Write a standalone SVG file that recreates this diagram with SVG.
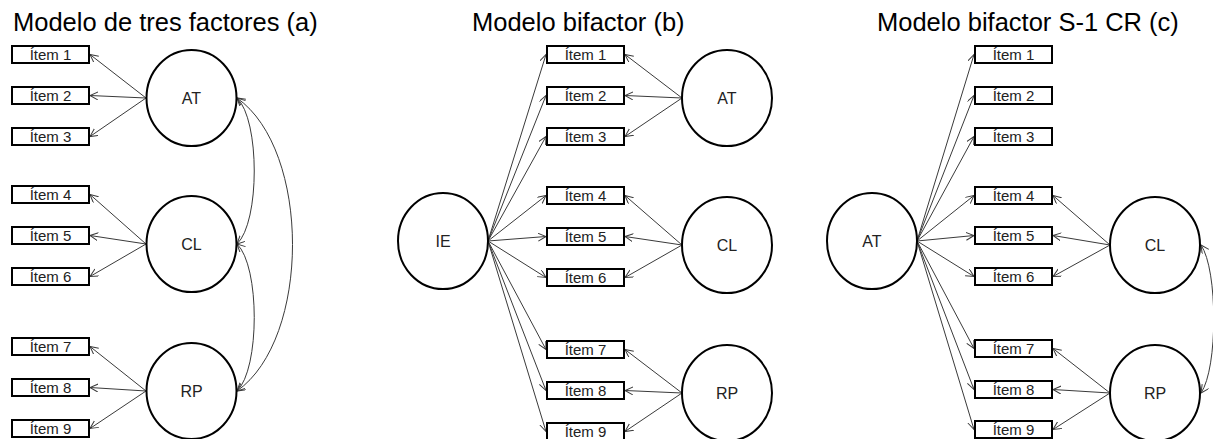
<svg xmlns="http://www.w3.org/2000/svg" width="1213" height="439" viewBox="0 0 1213 439">
  <defs>
    <style>
      .title { font-family: "Liberation Sans", Arial, sans-serif; font-size: 25.5px; fill: #000; }
      .item rect { fill: #fff; stroke: #000; stroke-width: 2; }
      .item text { font-family: "Liberation Sans", Arial, sans-serif; font-size: 15px; fill: #222; text-anchor: middle; }
      .factor ellipse { fill: #fff; stroke: #000; stroke-width: 2; }
      .factor text { font-family: "Liberation Sans", Arial, sans-serif; font-size: 16px; fill: #222; text-anchor: middle; }
      .conn line, .conn path { stroke: #3a3a3a; stroke-width: 1; fill: none; }
      .conn line { marker-end: url(#arrow); }
      .conn path { marker-start: url(#arrow-s); marker-end: url(#arrow); }
    </style>
    <marker id="arrow" markerUnits="userSpaceOnUse" markerWidth="10" markerHeight="10" refX="8" refY="4" orient="auto">
      <path d="M0,0 L8,4 L0,8" fill="none" stroke="#3a3a3a" stroke-width="1"/>
    </marker>
    <marker id="arrow-s" markerUnits="userSpaceOnUse" markerWidth="10" markerHeight="10" refX="8" refY="4" orient="auto-start-reverse">
      <path d="M0,0 L8,4 L0,8" fill="none" stroke="#3a3a3a" stroke-width="1"/>
    </marker>
  </defs>

  <rect width="1213" height="439" fill="#fff"/>

  <!-- Titles -->
  <text class="title" x="13" y="31">Modelo de tres factores (a)</text>
  <text class="title" x="472" y="31">Modelo bifactor (b)</text>
  <text class="title" x="877" y="31">Modelo bifactor S-1 CR (c)</text>

  <!-- Connectors -->
  <g id="connectors" class="conn">
    <!-- (a) loadings -->
    <line x1="146" y1="98" x2="90" y2="54.5"/>
    <line x1="146" y1="98" x2="90" y2="95.5"/>
    <line x1="146" y1="98" x2="90" y2="136.5"/>
    <line x1="146" y1="244" x2="90" y2="194.5"/>
    <line x1="146" y1="244" x2="90" y2="235.5"/>
    <line x1="146" y1="244" x2="90" y2="276.5"/>
    <line x1="146" y1="391" x2="90" y2="346.5"/>
    <line x1="146" y1="391" x2="90" y2="387.5"/>
    <line x1="146" y1="391" x2="90" y2="428.5"/>
    <!-- (a) factor covariances -->
    <path d="M237,98 C260,120 260,222 237,244"/>
    <path d="M237,98 C311,150 311,339 237,391"/>
    <path d="M237,244 C260,266 260,369 237,391"/>

    <!-- (b) general factor -->
    <line x1="488" y1="241" x2="546" y2="54.5"/>
    <line x1="488" y1="241" x2="546" y2="95.5"/>
    <line x1="488" y1="241" x2="546" y2="136.5"/>
    <line x1="488" y1="241" x2="546" y2="195.5"/>
    <line x1="488" y1="241" x2="546" y2="236.5"/>
    <line x1="488" y1="241" x2="546" y2="277.5"/>
    <line x1="488" y1="241" x2="546" y2="349.5"/>
    <line x1="488" y1="241" x2="546" y2="390.5"/>
    <line x1="488" y1="241" x2="546" y2="431.5"/>
    <!-- (b) specific factors -->
    <line x1="682" y1="98" x2="625" y2="54.5"/>
    <line x1="682" y1="98" x2="625" y2="95.5"/>
    <line x1="682" y1="98" x2="625" y2="136.5"/>
    <line x1="682" y1="245" x2="625" y2="195.5"/>
    <line x1="682" y1="245" x2="625" y2="236.5"/>
    <line x1="682" y1="245" x2="625" y2="277.5"/>
    <line x1="682" y1="393" x2="625" y2="349.5"/>
    <line x1="682" y1="393" x2="625" y2="390.5"/>
    <line x1="682" y1="393" x2="625" y2="431.5"/>

    <!-- (c) reference factor -->
    <line x1="917" y1="241" x2="974" y2="54.5"/>
    <line x1="917" y1="241" x2="974" y2="95.5"/>
    <line x1="917" y1="241" x2="974" y2="136.5"/>
    <line x1="917" y1="241" x2="974" y2="195.5"/>
    <line x1="917" y1="241" x2="974" y2="235.5"/>
    <line x1="917" y1="241" x2="974" y2="276.5"/>
    <line x1="917" y1="241" x2="974" y2="348.5"/>
    <line x1="917" y1="241" x2="974" y2="389.5"/>
    <line x1="917" y1="241" x2="974" y2="429.5"/>
    <!-- (c) specific factors -->
    <line x1="1110" y1="245" x2="1053" y2="195.5"/>
    <line x1="1110" y1="245" x2="1053" y2="235.5"/>
    <line x1="1110" y1="245" x2="1053" y2="276.5"/>
    <line x1="1110" y1="393" x2="1053" y2="348.5"/>
    <line x1="1110" y1="393" x2="1053" y2="389.5"/>
    <line x1="1110" y1="393" x2="1053" y2="429.5"/>
    <!-- (c) specific factor covariance -->
    <path d="M1201,245 C1218,270 1218,368 1201,393"/>
  </g>

  <!-- (a) Modelo de tres factores -->
  <g id="a-item1" class="item"><rect x="12" y="46" width="77" height="17"/><text x="50.5" y="60">Ítem 1</text></g>
  <g id="a-item2" class="item"><rect x="12" y="87" width="77" height="17"/><text x="50.5" y="101">Ítem 2</text></g>
  <g id="a-item3" class="item"><rect x="12" y="128" width="77" height="17"/><text x="50.5" y="142">Ítem 3</text></g>
  <g id="a-item4" class="item"><rect x="12" y="186" width="77" height="17"/><text x="50.5" y="200">Ítem 4</text></g>
  <g id="a-item5" class="item"><rect x="12" y="227" width="77" height="17"/><text x="50.5" y="241">Ítem 5</text></g>
  <g id="a-item6" class="item"><rect x="12" y="268" width="77" height="17"/><text x="50.5" y="282">Ítem 6</text></g>
  <g id="a-item7" class="item"><rect x="12" y="338" width="77" height="17"/><text x="50.5" y="352">Ítem 7</text></g>
  <g id="a-item8" class="item"><rect x="12" y="379" width="77" height="17"/><text x="50.5" y="393">Ítem 8</text></g>
  <g id="a-item9" class="item"><rect x="12" y="420" width="77" height="17"/><text x="50.5" y="434">Ítem 9</text></g>
  <g id="a-AT" class="factor"><ellipse cx="191.5" cy="98" rx="45" ry="48"/><text x="191.5" y="104">AT</text></g>
  <g id="a-CL" class="factor"><ellipse cx="191.5" cy="244" rx="45" ry="48"/><text x="191.5" y="250">CL</text></g>
  <g id="a-RP" class="factor"><ellipse cx="191.5" cy="391" rx="45" ry="48"/><text x="191.5" y="397">RP</text></g>

  <!-- (b) Modelo bifactor -->
  <g id="b-item1" class="item"><rect x="547" y="46" width="77" height="17"/><text x="585.5" y="60">Ítem 1</text></g>
  <g id="b-item2" class="item"><rect x="547" y="87" width="77" height="17"/><text x="585.5" y="101">Ítem 2</text></g>
  <g id="b-item3" class="item"><rect x="547" y="128" width="77" height="17"/><text x="585.5" y="142">Ítem 3</text></g>
  <g id="b-item4" class="item"><rect x="547" y="187" width="77" height="17"/><text x="585.5" y="201">Ítem 4</text></g>
  <g id="b-item5" class="item"><rect x="547" y="228" width="77" height="17"/><text x="585.5" y="242">Ítem 5</text></g>
  <g id="b-item6" class="item"><rect x="547" y="269" width="77" height="17"/><text x="585.5" y="283">Ítem 6</text></g>
  <g id="b-item7" class="item"><rect x="547" y="341" width="77" height="17"/><text x="585.5" y="355">Ítem 7</text></g>
  <g id="b-item8" class="item"><rect x="547" y="382" width="77" height="17"/><text x="585.5" y="396">Ítem 8</text></g>
  <g id="b-item9" class="item"><rect x="547" y="423" width="77" height="17"/><text x="585.5" y="437">Ítem 9</text></g>
  <g id="b-IE" class="factor"><ellipse cx="443" cy="241" rx="45" ry="48"/><text x="443" y="247">IE</text></g>
  <g id="b-AT" class="factor"><ellipse cx="727" cy="98" rx="45" ry="48"/><text x="727" y="104">AT</text></g>
  <g id="b-CL" class="factor"><ellipse cx="727" cy="245" rx="45" ry="48"/><text x="727" y="251">CL</text></g>
  <g id="b-RP" class="factor"><ellipse cx="727" cy="393" rx="45" ry="48"/><text x="727" y="399">RP</text></g>

  <!-- (c) Modelo bifactor S-1 CR -->
  <g id="c-item1" class="item"><rect x="975" y="46" width="77" height="17"/><text x="1013.5" y="60">Ítem 1</text></g>
  <g id="c-item2" class="item"><rect x="975" y="87" width="77" height="17"/><text x="1013.5" y="101">Ítem 2</text></g>
  <g id="c-item3" class="item"><rect x="975" y="128" width="77" height="17"/><text x="1013.5" y="142">Ítem 3</text></g>
  <g id="c-item4" class="item"><rect x="975" y="187" width="77" height="17"/><text x="1013.5" y="201">Ítem 4</text></g>
  <g id="c-item5" class="item"><rect x="975" y="227" width="77" height="17"/><text x="1013.5" y="241">Ítem 5</text></g>
  <g id="c-item6" class="item"><rect x="975" y="268" width="77" height="17"/><text x="1013.5" y="282">Ítem 6</text></g>
  <g id="c-item7" class="item"><rect x="975" y="340" width="77" height="17"/><text x="1013.5" y="354">Ítem 7</text></g>
  <g id="c-item8" class="item"><rect x="975" y="381" width="77" height="17"/><text x="1013.5" y="395">Ítem 8</text></g>
  <g id="c-item9" class="item"><rect x="975" y="421" width="77" height="17"/><text x="1013.5" y="435">Ítem 9</text></g>
  <g id="c-AT" class="factor"><ellipse cx="872" cy="241" rx="45" ry="48"/><text x="872" y="247">AT</text></g>
  <g id="c-CL" class="factor"><ellipse cx="1155" cy="245" rx="45" ry="48"/><text x="1155" y="251">CL</text></g>
  <g id="c-RP" class="factor"><ellipse cx="1155" cy="393" rx="45" ry="48"/><text x="1155" y="399">RP</text></g>
</svg>
